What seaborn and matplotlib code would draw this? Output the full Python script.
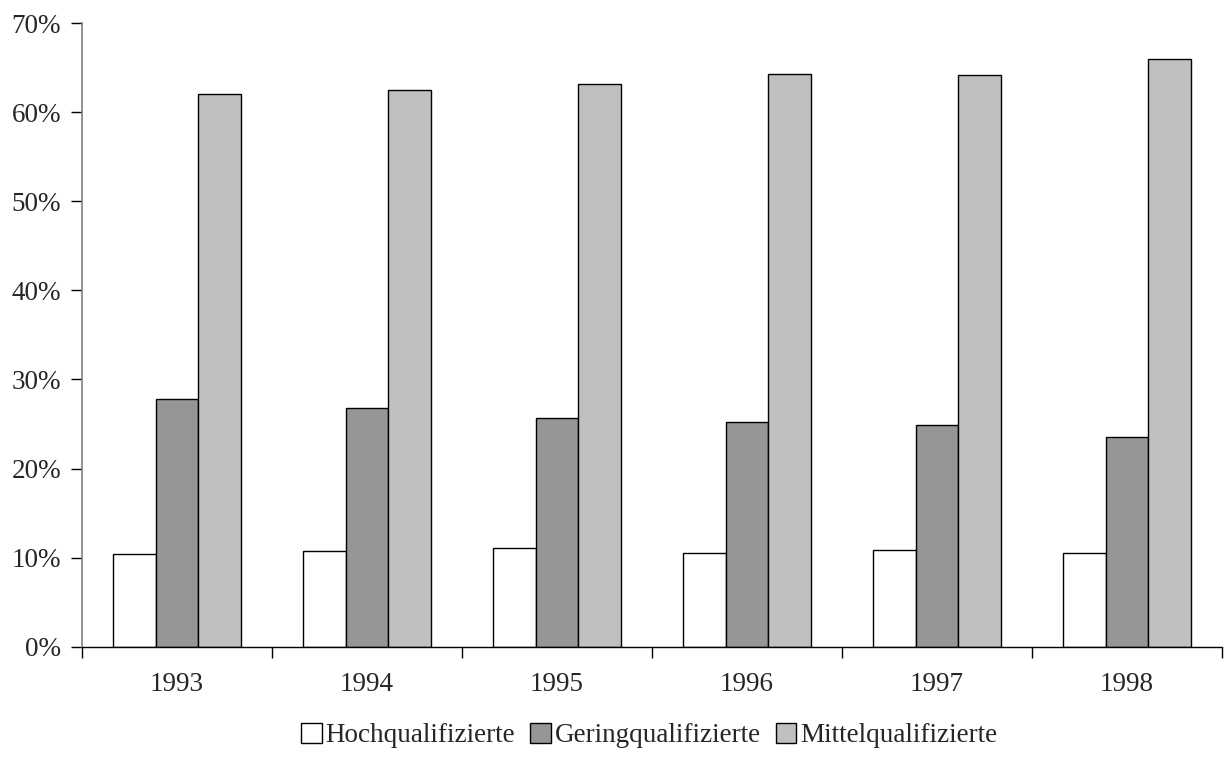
import matplotlib
matplotlib.use("Agg")
import matplotlib.pyplot as plt
import numpy as np
import pandas as pd
import seaborn as sns
from matplotlib.ticker import FuncFormatter, FixedLocator

# Daten (Anteile in %)
jahre = ["1993", "1994", "1995", "1996", "1997", "1998"]
gruppen = ["Hochqualifizierte", "Geringqualifizierte", "Mittelqualifizierte"]
hoch   = [10.4, 10.7, 11.1, 10.5, 10.9, 10.5]
gering = [27.8, 26.8, 25.7, 25.2, 24.9, 23.5]
mittel = [62.0, 62.5, 63.2, 64.3, 64.2, 66.0]
farben = ["#FFFFFF", "#969696", "#C0C0C0"]

df = pd.DataFrame({
    "Jahr": jahre * 3,
    "Gruppe": np.repeat(gruppen, len(jahre)),
    "Anteil": np.array(hoch + gering + mittel) / 100.0,
})

sns.set_style("white")
plt.rcParams["font.family"] = ["Liberation Serif", "DejaVu Serif"]

fig = plt.figure(figsize=(12.25, 7.57), dpi=100)
ax = fig.add_axes([0.0669, 0.1457, 0.9307, 0.8239])

sns.barplot(
    data=df, x="Jahr", y="Anteil", hue="Gruppe",
    hue_order=gruppen, order=jahre, palette=farben,
    saturation=1, width=0.67, edgecolor="black", linewidth=1.0,
    ax=ax,
)

ax.set_ylim(0, 0.70)
ax.set_xlim(-0.5, len(jahre) - 0.5)
ax.set_yticks(np.arange(0, 0.71, 0.1))
ax.yaxis.set_major_formatter(FuncFormatter(lambda v, _: f"{v * 100:.0f}%"))
ax.set_xlabel("")
ax.set_ylabel("")

# Teilstriche zwischen den Kategorien
ax.xaxis.set_minor_locator(FixedLocator(np.arange(-0.5, len(jahre), 1.0)))
ax.tick_params(axis="x", which="major", length=0, pad=18, labelsize=19.5)
ax.tick_params(axis="x", which="minor", length=8, width=1, color="black",
               direction="out", bottom=True)
ax.tick_params(axis="y", length=8, width=1, color="black", direction="out",
               left=True, labelsize=19.5, pad=7)

for s in ["top", "right"]:
    ax.spines[s].set_visible(False)
ax.spines["left"].set_color("#808080")
ax.spines["left"].set_linewidth(1.2)
ax.spines["bottom"].set_color("black")
ax.spines["bottom"].set_linewidth(1.0)

handles, labels = ax.get_legend_handles_labels()
ax.get_legend().remove()
fig.legend(
    handles, labels, loc="center", bbox_to_anchor=(0.53, 0.028), ncol=3,
    frameon=False, fontsize=19.5, handlelength=0.75, handleheight=0.75,
    handletextpad=0.15, columnspacing=0.55,
)

fig.savefig("out.png", dpi=100)
plt.close(fig)
